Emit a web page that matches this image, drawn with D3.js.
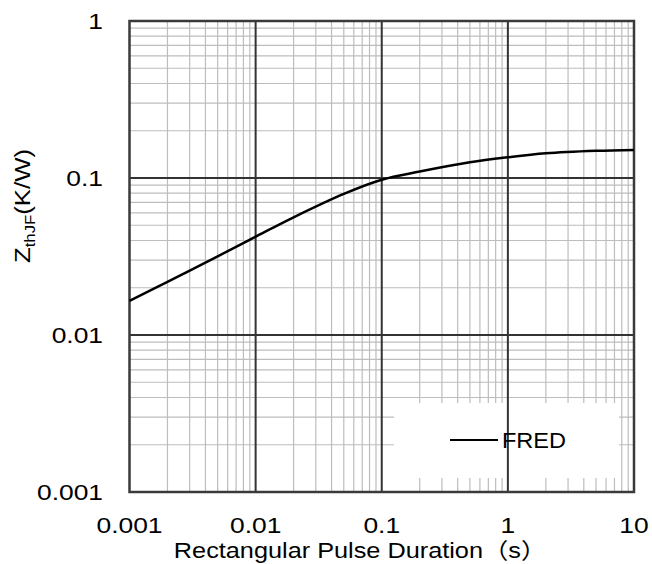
<!DOCTYPE html>
<meta charset="utf-8">
<script src="https://d3js.org/d3.v7.min.js"></script>
<style>
  body { margin: 0; background: #fff; }
  text { font-family: "Liberation Sans", Arial, "Noto Sans CJK SC", sans-serif; fill: #000; }
</style>
<div id="chart"></div>
<script>
// pulse duration (s) and thermal impedance (K/W)
var pulse = [0.001, 0.002, 0.005, 0.01, 0.02, 0.05, 0.1, 0.2, 0.5, 1, 2, 5, 10];
var zth   = [0.0165, 0.0218, 0.0317, 0.0423, 0.0562, 0.0792, 0.0975, 0.110, 0.126, 0.1355, 0.1436, 0.149, 0.151];
var xTicks = [0.001, 0.01, 0.1, 1, 10];
var xTickLabels = ["0.001", "0.01", "0.1", "1", "10"];
var yTicks = [0.001, 0.01, 0.1, 1];
var yTickLabels = ["0.001", "0.01", "0.1", "1"];
var seriesName = "FRED";

var W = 652, H = 564;
var pLeft = 129.5, pRight = 634, pTop = 21, pBottom = 492;

var svg = d3.select("#chart").append("svg")
  .attr("width", W).attr("height", H);

var x = d3.scaleLog().domain([0.001, 10]).range([pLeft, pRight]);
var y = d3.scaleLog().domain([0.001, 1]).range([pBottom, pTop]);

// minor grid (2..9 in each decade)
var minorX = [], minorY = [];
[0.001, 0.01, 0.1, 1].forEach(function(d) {
  for (var k = 2; k <= 9; k++) minorX.push(d * k);
});
[0.001, 0.01, 0.1].forEach(function(d) {
  for (var k = 2; k <= 9; k++) minorY.push(d * k);
});

var grid = svg.append("g");
grid.selectAll(".mx").data(minorX).enter().append("line")
  .attr("x1", d => x(d)).attr("x2", d => x(d))
  .attr("y1", pTop).attr("y2", pBottom)
  .attr("stroke", "#bdbdbd").attr("stroke-width", 1.2);
grid.selectAll(".my").data(minorY).enter().append("line")
  .attr("x1", pLeft).attr("x2", pRight)
  .attr("y1", d => y(d)).attr("y2", d => y(d))
  .attr("stroke", "#bdbdbd").attr("stroke-width", 1.2);

// legend box hides the grid behind it
svg.append("rect")
  .attr("x", 394).attr("y", 403)
  .attr("width", 225).attr("height", 75)
  .attr("fill", "#fff");

// major grid
grid = svg.append("g");
grid.selectAll(".Mx").data(xTicks.slice(1, -1)).enter().append("line")
  .attr("x1", d => x(d)).attr("x2", d => x(d))
  .attr("y1", pTop).attr("y2", pBottom)
  .attr("stroke", "#333").attr("stroke-width", 2);
grid.selectAll(".My").data(yTicks.slice(1, -1)).enter().append("line")
  .attr("x1", pLeft).attr("x2", pRight)
  .attr("y1", d => y(d)).attr("y2", d => y(d))
  .attr("stroke", "#333").attr("stroke-width", 2);

// plot border
svg.append("rect")
  .attr("x", pLeft).attr("y", pTop)
  .attr("width", pRight - pLeft).attr("height", pBottom - pTop)
  .attr("fill", "none").attr("stroke", "#3a3a3a").attr("stroke-width", 2.5);

// curve
var line = d3.line()
  .x((d, i) => x(pulse[i]))
  .y(d => y(d))
  .curve(d3.curveCatmullRom);
svg.append("path")
  .datum(zth)
  .attr("d", line)
  .attr("fill", "none")
  .attr("stroke", "#000")
  .attr("stroke-width", 2.5);

// text helper, glyphs a bit wider than normal like the original
function label(px, py, str, anchor, size, sx) {
  return svg.append("g")
    .attr("transform", "translate(" + px + "," + py + ") scale(" + sx + ",1)")
    .append("text")
    .attr("text-anchor", anchor)
    .style("font-size", size + "px")
    .text(str);
}

xTicks.forEach(function(d, i) {
  label(x(d), 532.5, xTickLabels[i], "middle", 22, 1.2);
});
yTicks.forEach(function(d, i) {
  label(103, y(d) + 8, yTickLabels[i], "end", 22, 1.2);
});

// axis titles
label(360, 558, "Rectangular Pulse Duration（s）", "middle", 22, 1.15);

var yt = svg.append("g")
  .attr("transform", "translate(30,206) rotate(-90) scale(1.12,1)")
  .append("text")
  .attr("text-anchor", "middle")
  .style("font-size", "23px");
yt.append("tspan").text("Z");
yt.append("tspan").attr("dy", 5).style("font-size", "15px").text("thJF");
yt.append("tspan").attr("dy", -5).text("(K/W)");

// legend
svg.append("line")
  .attr("x1", 450).attr("x2", 498)
  .attr("y1", 440).attr("y2", 440)
  .attr("stroke", "#000").attr("stroke-width", 2);
label(502, 447.5, seriesName, "start", 22, 1.07);
</script>
